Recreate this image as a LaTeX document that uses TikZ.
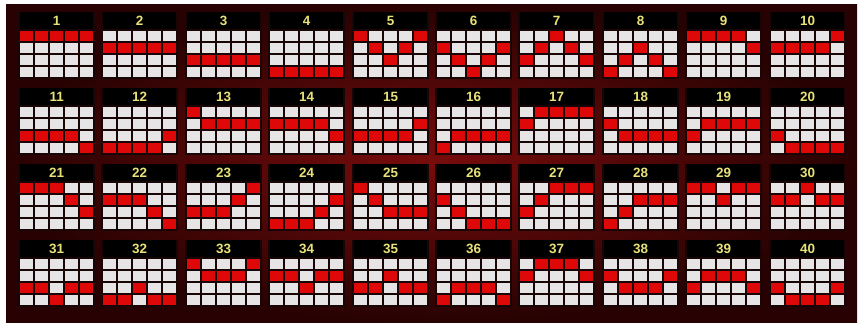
\documentclass[tikz,border=0pt]{standalone}
\usepackage{fontspec}
\setmainfont{Liberation Sans}
\definecolor{numyellow}{RGB}{232,226,120}
\definecolor{cardbg}{RGB}{24,6,6}
\definecolor{whitefill}{RGB}{230,228,228}
\definecolor{redfill}{RGB}{222,8,8}
\begin{document}
\begin{tikzpicture}[x=1bp,y=-1bp,
  panel/.style={inner color={rgb,255:red,120;green,12;blue,12}, outer color={rgb,255:red,40;green,2;blue,2}},
  cardbox/.style={fill=cardbg},
  headerbox/.style={fill=black, minimum width=73bp, minimum height=17bp, inner sep=0pt, anchor=north west,
    text=numyellow, font=\bfseries\fontsize{13.5}{13.5}\selectfont},
  whitecell/.style={minimum width=13bp, minimum height=10bp, inner sep=0pt, anchor=north west, fill=whitefill},
  redcell/.style={minimum width=13bp, minimum height=10bp, inner sep=0pt, anchor=north west, fill=redfill}
]
\useasboundingbox (0,0) rectangle (867,328);
\fill[white] (0,0) rectangle (867,328);
\shade[panel] (6,4) rectangle (857,322);
\foreach \n/\a/\b/\c/\d/\e [count=\k from 0] in {
 1/0/0/0/0/0, 2/1/1/1/1/1, 3/2/2/2/2/2, 4/3/3/3/3/3, 5/0/1/2/1/0,
 6/1/2/3/2/1, 7/2/1/0/1/2, 8/3/2/1/2/3, 9/0/0/0/0/1, 10/1/1/1/1/0,
 11/2/2/2/2/3, 12/3/3/3/3/2, 13/0/1/1/1/1, 14/1/1/1/1/2, 15/2/2/2/2/1,
 16/3/2/2/2/2, 17/1/0/0/0/0, 18/1/2/2/2/2, 19/2/1/1/1/1, 20/2/3/3/3/3,
 21/0/0/0/1/2, 22/1/1/1/2/3, 23/2/2/2/1/0, 24/3/3/3/2/1, 25/0/1/2/2/2,
 26/1/2/3/3/3, 27/2/1/0/0/0, 28/3/2/1/1/1, 29/0/0/1/0/0, 30/1/1/0/1/1,
 31/2/2/3/2/2, 32/3/3/2/3/3, 33/0/1/1/1/0, 34/1/1/2/1/1, 35/2/2/1/2/2,
 36/3/2/2/2/3, 37/1/0/0/0/1, 38/1/2/2/2/1, 39/2/1/1/1/2, 40/2/3/3/3/2} {
  \pgfmathtruncatemacro\col{mod(\k,10)}
  \pgfmathtruncatemacro\row{div(\k,10)}
  \pgfmathtruncatemacro\xo{round(20+83.4*\col)}
  \pgfmathtruncatemacro\yo{12+76*\row}
  \fill[cardbox] ({\xo-2},\yo) rectangle ({\xo+75},{\yo+67});
  \node[headerbox] (h\n) at (\xo,\yo) {\n};
  \foreach \j/\v in {0/\a,1/\b,2/\c,3/\d,4/\e} {
    \foreach \i in {0,...,3} {
      \ifnum\i=\v\relax
        \node[redcell] (c\n-\j-\i) at ({\xo+15*\j},{\yo+19+12*\i}) {};
      \else
        \node[whitecell] (c\n-\j-\i) at ({\xo+15*\j},{\yo+19+12*\i}) {};
      \fi
    }
  }
}
\end{tikzpicture}
\end{document}
